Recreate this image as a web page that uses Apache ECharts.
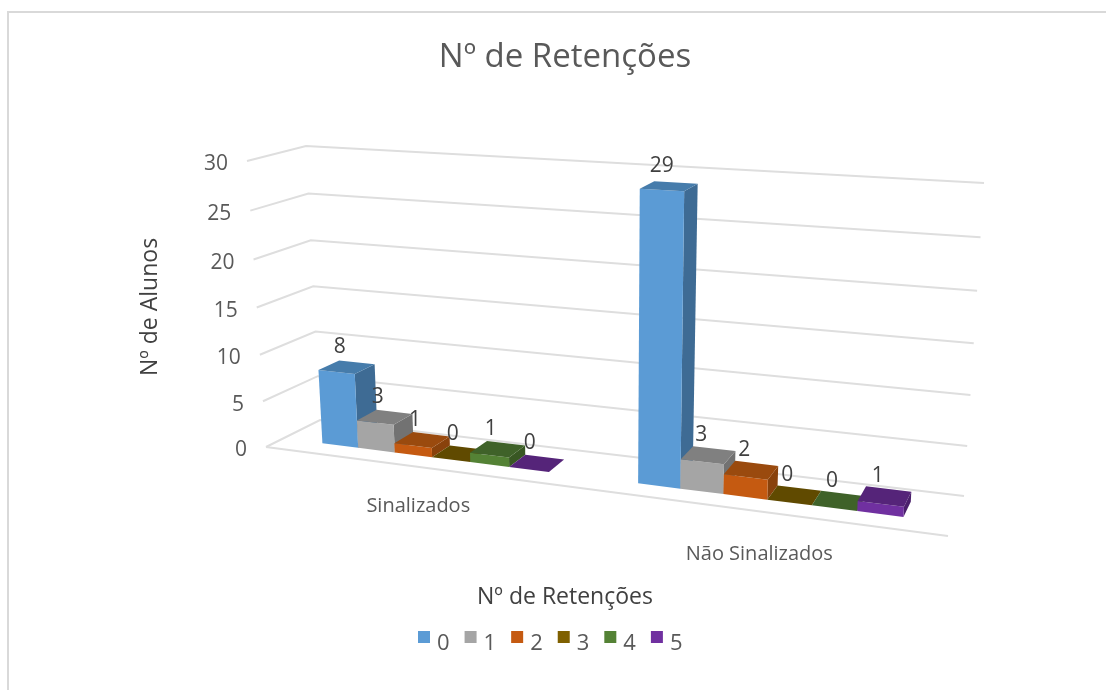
<!DOCTYPE html>
<html><head><meta charset="utf-8">
<style>html,body{margin:0;padding:0;background:#fff}#c{width:1106px;height:690px}</style>
<script src="https://cdn.jsdelivr.net/npm/echarts@6/dist/echarts.min.js"></script>
</head><body><div id="c"></div>
<script>
const titleText = 'Nº de Retenções';
const yAxisName = 'Nº de Alunos';
const xAxisName = 'Nº de Retenções';
const categories = ['Sinalizados', 'Não Sinalizados'];
const seriesNames = ['0', '1', '2', '3', '4', '5'];
const retencoes0 = [8, 29];
const retencoes1 = [3, 3];
const retencoes2 = [1, 2];
const retencoes3 = [0, 0];
const retencoes4 = [1, 0];
const retencoes5 = [0, 1];
const yTicks = [0, 5, 10, 15, 20, 25, 30];
const allValues = [retencoes0, retencoes1, retencoes2, retencoes3, retencoes4, retencoes5];

const frontColors = ['#5b9bd5', '#a5a5a5', '#c55a11', '#7f6000', '#548235', '#7030a0'];
const topColors = ['#467cab', '#808080', '#9a4a0e', '#604a00', '#3f6229', '#552479'];
const sideColors = ['#3e6b94', '#727272', '#89420c', '#554100', '#385723', '#4b206c'];

const GRID = { left: 100, top: 100, width: 800, height: 400 };
const YMAX = 30;

// Corners of the 3D plot box: floor and roof, each [front-left, front-right, back-right, back-left]
const FLOOR = [[266, 447], [948, 536], [964, 496], [320, 420]];
const ROOF = [[247, 161], [966, 204], [984, 183], [306, 146]];
function bilinear(q, u, v) {
  const a = 1 - u, b = 1 - v;
  return [0, 1].map(n => q[0][n] * a * b + q[1][n] * u * b + q[2][n] * u * v + q[3][n] * a * v);
}
function project(u, v, t) {
  const uw = 0.842 * u + 0.158 * u * u;      // foreshortening along the category direction
  const f = bilinear(FLOOR, uw, v), r = bilinear(ROOF, uw, v);
  const k = t / (1 + 0.05 * (1 - t));        // foreshortening along the value direction
  return [f[0] + (r[0] - f[0]) * k, f[1] + (r[1] - f[1]) * k];
}
// from the flat grid (library scales) to the box
function toBox(api, x, val) {
  const p = api.coord([x, val]);
  return { uc: (p[0] - GRID.left) / GRID.width, t: (GRID.top + GRID.height - p[1]) / GRID.height, bw: api.size([1, 0])[0] / GRID.width };
}
const BAR_START = 0.137, BAR_W = 0.1223;  // as fractions of a category band
const V0 = 0.32, V1 = 0.71;

function barItem(j) {
  return function (params, api) {
    const i = api.value(0), val = api.value(1);
    const b = toBox(api, i, val);
    const u0 = b.uc - b.bw / 2 + b.bw * (BAR_START + j * BAR_W), u1 = u0 + b.bw * BAR_W;
    const P = project;
    const fbl = P(u0, V0, 0), fbr = P(u1, V0, 0), ftl = P(u0, V0, b.t), ftr = P(u1, V0, b.t);
    const btl = P(u0, V1, b.t), btr = P(u1, V1, b.t), bbr = P(u1, V1, 0);
    const children = [];
    if (b.t > 0) {
      children.push({ type: 'polygon', shape: { points: [fbr, ftr, btr, bbr] }, style: { fill: sideColors[j] } });
      children.push({ type: 'polygon', shape: { points: [fbl, fbr, ftr, ftl] }, style: { fill: frontColors[j] } });
    }
    children.push({ type: 'polygon', shape: { points: [ftl, ftr, btr, btl] }, style: { fill: topColors[j] } });
    const c = P((u0 + u1) / 2, (V0 + V1) / 2, b.t);
    children.push({ type: 'text', z2: 50, style: { x: c[0] - 7, y: c[1] - 20, text: String(val), fill: '#404040', font: '21px "Open Sans"', align: 'center', verticalAlign: 'middle' } });
    return { type: 'group', children };
  };
}

const gridLineSeries = {
  type: 'custom', coordinateSystem: 'cartesian2d', silent: true, z: 1,
  data: yTicks.map(v => [0, v]),
  encode: { x: 0, y: 1 },
  renderItem(params, api) {
    const val = api.value(1);
    const t = toBox(api, 0, val).t;
    const children = [{ type: 'polyline', shape: { points: [project(0, 0, t), project(0, 1, t), project(1, 1, t)] }, style: { fill: 'none', stroke: '#dedede', lineWidth: 2 } }];
    if (val === 0) children.push({ type: 'line', shape: { x1: project(0, 0, 0)[0], y1: project(0, 0, 0)[1], x2: project(1, 0, 0)[0], y2: project(1, 0, 0)[1] }, style: { stroke: '#dedede', lineWidth: 2 } });
    const p = project(0, 0, t);
    children.push({ type: 'text', style: { x: p[0] - 19, y: p[1] + 3.5, text: String(val), fill: '#595959', font: '21px "Open Sans"', align: 'right', verticalAlign: 'middle' } });
    return { type: 'group', children };
  }
};
const catLabelSeries = {
  type: 'custom', coordinateSystem: 'cartesian2d', silent: true, z: 1,
  data: categories.map((c, i) => [i, 0]),
  encode: { x: 0, y: 1 },
  renderItem(params, api) {
    const i = api.value(0);
    const b = toBox(api, i, 0);
    const p = project(b.uc, 0, 0);
    return { type: 'text', style: { x: p[0] + 2, y: p[1] + 40 + 3 * i, text: categories[i], fill: '#595959', font: '20px "Open Sans"', align: 'center', verticalAlign: 'middle' } };
  }
};
const barSeries = seriesNames.map((name, j) => ({
  name, type: 'custom', coordinateSystem: 'cartesian2d', z: 2 + j,
  itemStyle: { color: frontColors[j] },
  data: allValues[j].map((v, i) => [i, v]),
  encode: { x: 0, y: 1 },
  renderItem: barItem(j)
}));

const option = {
  animation: false,
  backgroundColor: '#ffffff',
  title: { text: titleText, left: 560, top: 53, textAlign: 'center', textVerticalAlign: 'middle', textStyle: { fontFamily: 'Open Sans', fontWeight: 'normal', fontSize: 33, color: '#595959' } },
  legend: {
    data: seriesNames, left: 413, top: 626, itemWidth: 12, itemHeight: 26, itemGap: 15,
    icon: 'path://M0,0H12V12H0Z M0,26H12V26H0Z',
    selectedMode: false, textStyle: { fontFamily: 'Open Sans', fontSize: 22, color: '#595959', padding: [0, 0, 0, 2] }
  },
  grid: { left: GRID.left, top: GRID.top, width: GRID.width, height: GRID.height, show: false },
  xAxis: { type: 'category', data: categories, show: false },
  yAxis: { type: 'value', min: 0, max: YMAX, interval: 5, show: false },
  graphic: [
    { type: 'polyline', silent: true, shape: { points: [[8, 690], [8, 12], [1106, 12]] }, style: { fill: 'none', stroke: '#d9d9d9', lineWidth: 2 } },
    { type: 'text', silent: true, x: 150, y: 307, rotation: Math.PI / 2, style: { text: yAxisName, fill: '#404040', font: '23px "Open Sans"', align: 'center', verticalAlign: 'middle' } },
    { type: 'text', silent: true, x: 565, y: 597, style: { text: xAxisName, fill: '#404040', font: '23px "Open Sans"', align: 'center', verticalAlign: 'middle' } }
  ],
  series: [gridLineSeries, catLabelSeries].concat(barSeries)
};
echarts.init(document.getElementById('c')).setOption(option);
</script></body></html>
